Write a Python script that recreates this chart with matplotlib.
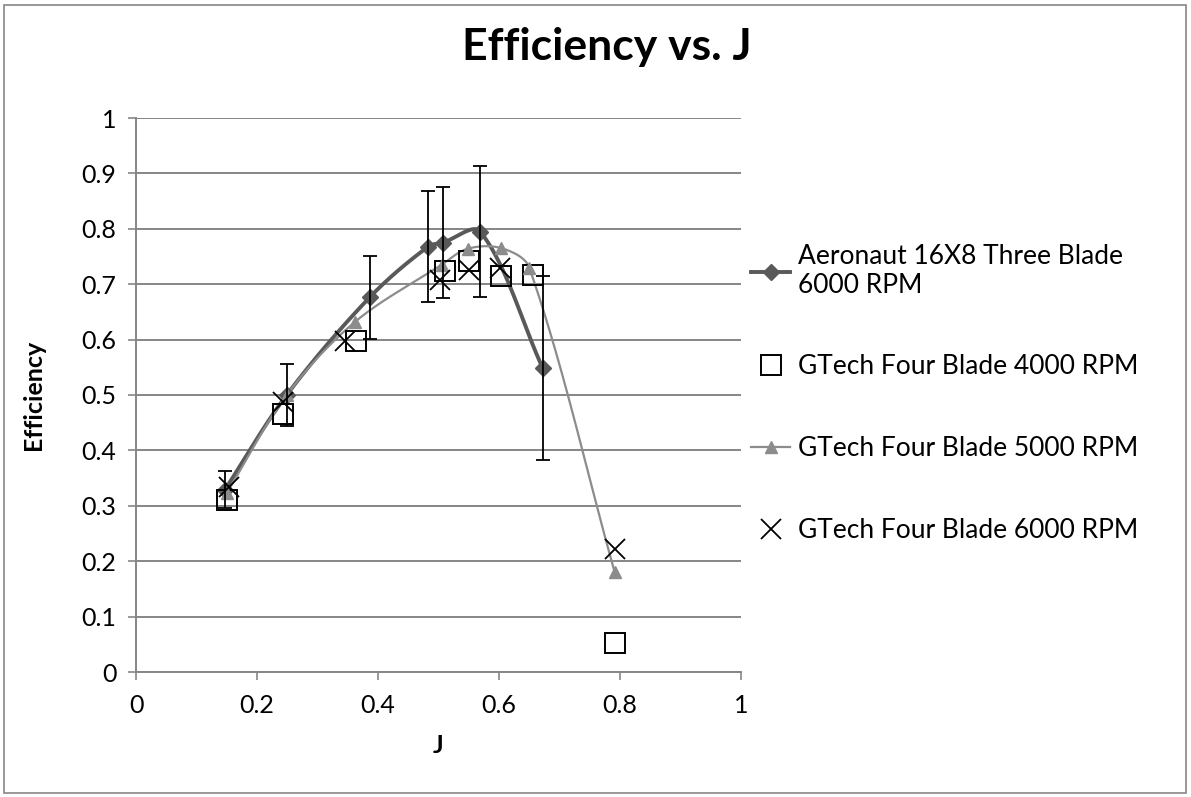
import numpy as np
import matplotlib.pyplot as plt
from matplotlib.lines import Line2D
from matplotlib.patches import Rectangle
from matplotlib.ticker import FormatStrFormatter

plt.rcParams['font.family'] = ['Lato', 'DejaVu Sans']

# Aeronaut 16X8 Three Blade 6000 RPM (with error bars)
j_aero = [0.147, 0.249, 0.386, 0.483, 0.507, 0.569, 0.672]
eff_aero = [0.329, 0.500, 0.676, 0.768, 0.775, 0.795, 0.549]
err_aero = [0.033, 0.056, 0.075, 0.100, 0.100, 0.119, 0.166]

# GTech Four Blade 4000 RPM
j_4000 = [0.151, 0.243, 0.363, 0.510, 0.551, 0.604, 0.657, 0.792]
eff_4000 = [0.310, 0.466, 0.598, 0.724, 0.741, 0.715, 0.717, 0.052]

# GTech Four Blade 5000 RPM
j_5000 = [0.150, 0.249, 0.362, 0.505, 0.548, 0.604, 0.650, 0.791]
eff_5000 = [0.323, 0.500, 0.632, 0.735, 0.764, 0.765, 0.730, 0.181]

# GTech Four Blade 6000 RPM
j_6000 = [0.153, 0.243, 0.345, 0.502, 0.550, 0.602, 0.791]
eff_6000 = [0.334, 0.488, 0.598, 0.708, 0.725, 0.730, 0.222]

labels = ['Aeronaut 16X8 Three Blade\n6000 RPM', 'GTech Four Blade 4000 RPM',
          'GTech Four Blade 5000 RPM', 'GTech Four Blade 6000 RPM']

grey = '#868686'
dark = '#595959'
light = '#8c8c8c'

# pixel per unit, so the smoothing is done in screen-like space
SX, SY = 605.0, 554.0


def smooth(x, y, n=40):
    # bezier smoothing, tangent scaled by neighbouring chord lengths
    p = np.column_stack([np.asarray(x) * SX, np.asarray(y) * SY])
    k = len(p)
    segs = []
    t = np.linspace(0, 1, n)[:, None]
    for i in range(k - 1):
        a, b = p[i], p[i + 1]
        d = np.linalg.norm(b - a)
        if i > 0:
            ta = p[i + 1] - p[i - 1]
            c1 = a + ta * d / (np.linalg.norm(a - p[i - 1]) + d) / 3
        else:
            c1 = a + (b - a) / 3
        if i < k - 2:
            tb = p[i + 2] - p[i]
            c2 = b - tb * d / (np.linalg.norm(p[i + 2] - b) + d) / 3
        else:
            c2 = b - (b - a) / 3
        segs.append((1 - t) ** 3 * a + 3 * (1 - t) ** 2 * t * c1
                    + 3 * (1 - t) * t ** 2 * c2 + t ** 3 * b)
    s = np.vstack(segs)
    return s[:, 0] / SX, s[:, 1] / SY


fig = plt.figure(figsize=(11.91, 7.97), dpi=100)
ax = fig.add_axes([136 / 1191, 1 - 672 / 797, 605 / 1191, 554 / 797])

# Aeronaut
sx, sy = smooth(j_aero, eff_aero)
ax.plot(sx, sy, color=dark, lw=2.8, zorder=3)
ax.plot(j_aero, eff_aero, ls='none', marker='D', ms=8, color=dark, zorder=4)
ax.errorbar(j_aero, eff_aero, yerr=err_aero, fmt='none', ecolor='black',
            elinewidth=1.3, capsize=5, capthick=1.3, zorder=6)

# 4000 RPM
ax.plot(j_4000, eff_4000, ls='none', marker='s', ms=14, mfc='none',
        mec='black', mew=1.4, zorder=5)

# 5000 RPM
sx, sy = smooth(j_5000, eff_5000)
ax.plot(sx, sy, color=light, lw=1.6, zorder=3)
ax.plot(j_5000, eff_5000, ls='none', marker='^', ms=9, color=light, zorder=5)

# 6000 RPM
ax.plot(j_6000, eff_6000, ls='none', marker='x', ms=14, mew=1.3,
        color='black', zorder=5)

ax.set_xlim(0, 1)
ax.set_ylim(0, 1)
ax.set_xticks(np.arange(0, 1.01, 0.2))
ax.set_yticks(np.arange(0, 1.01, 0.1))
ax.xaxis.set_major_formatter(FormatStrFormatter('%g'))
ax.yaxis.set_major_formatter(FormatStrFormatter('%g'))
ax.tick_params(labelsize=18, color=grey, length=6, width=1.2, direction='out')
ax.tick_params(axis='x', pad=10)
ax.tick_params(axis='y', pad=8)
ax.grid(axis='y', color=grey, lw=1.4)
ax.set_axisbelow(True)
for side in ['top', 'right']:
    ax.spines[side].set_visible(False)
for side in ['left', 'bottom']:
    ax.spines[side].set_color(grey)
    ax.spines[side].set_linewidth(1.4)
ax.set_xlabel('J', fontsize=18, fontweight='bold', va='center')
ax.set_ylabel('Efficiency', fontsize=18, fontweight='bold', va='center')
ax.xaxis.set_label_coords(0.5, -0.132)
ax.yaxis.set_label_coords(-0.170, 0.5)

fig.text(607 / 1191, 1 - 47 / 797, 'Efficiency vs. J', fontsize=32,
         fontweight='bold', ha='center', va='center')

handles = [
    Line2D([], [], color=dark, lw=2.8, marker='D', ms=8),
    Line2D([], [], ls='none', marker='s', ms=14, mfc='none', mec='black', mew=1.4),
    Line2D([], [], color=light, lw=1.6, marker='^', ms=9),
    Line2D([], [], ls='none', marker='x', ms=14, mew=1.3, color='black'),
]
fig.legend(handles, labels, loc='upper left',
           bbox_to_anchor=(727 / 1191, 1 - 220 / 797), frameon=False,
           fontsize=19, labelspacing=2.15, handlelength=1.5, handletextpad=0.3)

fig.patches.append(Rectangle((4 / 1191, 4 / 797), 1 - 9 / 1191, 1 - 9 / 797,
                             transform=fig.transFigure, fill=False,
                             edgecolor=grey, lw=1.2))

fig.savefig('out.png', dpi=100)
